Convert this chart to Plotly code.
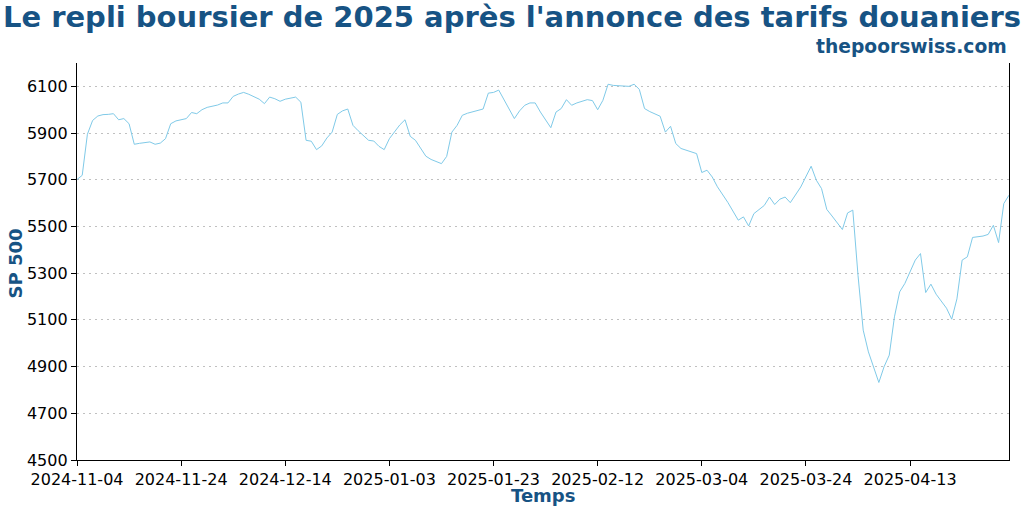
import plotly.graph_objects as go

dates = [
    "2024-11-04", "2024-11-05", "2024-11-06", "2024-11-07", "2024-11-08", "2024-11-09", "2024-11-10",
    "2024-11-11", "2024-11-12", "2024-11-13", "2024-11-14", "2024-11-15", "2024-11-16", "2024-11-17",
    "2024-11-18", "2024-11-19", "2024-11-20", "2024-11-21", "2024-11-22", "2024-11-23", "2024-11-25",
    "2024-11-26", "2024-11-27", "2024-11-28", "2024-11-29", "2024-12-01", "2024-12-02", "2024-12-03",
    "2024-12-04", "2024-12-05", "2024-12-06", "2024-12-07", "2024-12-09", "2024-12-10", "2024-12-11",
    "2024-12-12", "2024-12-13", "2024-12-14", "2024-12-16", "2024-12-17", "2024-12-18", "2024-12-19",
    "2024-12-20", "2024-12-21", "2024-12-22", "2024-12-23", "2024-12-24", "2024-12-25", "2024-12-26",
    "2024-12-27", "2024-12-28", "2024-12-30", "2024-12-31", "2025-01-01", "2025-01-02", "2025-01-03",
    "2025-01-04", "2025-01-05", "2025-01-06", "2025-01-07", "2025-01-08", "2025-01-10", "2025-01-11",
    "2025-01-13", "2025-01-14", "2025-01-15", "2025-01-16", "2025-01-17", "2025-01-18", "2025-01-20",
    "2025-01-21", "2025-01-22", "2025-01-23", "2025-01-24", "2025-01-25", "2025-01-26", "2025-01-27",
    "2025-01-28", "2025-01-29", "2025-01-30", "2025-01-31", "2025-02-01", "2025-02-03", "2025-02-04",
    "2025-02-05", "2025-02-06", "2025-02-07", "2025-02-08", "2025-02-10", "2025-02-11", "2025-02-12",
    "2025-02-13", "2025-02-14", "2025-02-15", "2025-02-17", "2025-02-18", "2025-02-19", "2025-02-20",
    "2025-02-21", "2025-02-22", "2025-02-24", "2025-02-25", "2025-02-26", "2025-02-27", "2025-02-28",
    "2025-03-03", "2025-03-04", "2025-03-05", "2025-03-06", "2025-03-07", "2025-03-09", "2025-03-11",
    "2025-03-12", "2025-03-13", "2025-03-14", "2025-03-16", "2025-03-17", "2025-03-18", "2025-03-19",
    "2025-03-20", "2025-03-21", "2025-03-23", "2025-03-25", "2025-03-26", "2025-03-27", "2025-03-28",
    "2025-03-29", "2025-03-31", "2025-04-01", "2025-04-02", "2025-04-03", "2025-04-04", "2025-04-05",
    "2025-04-07", "2025-04-08", "2025-04-09", "2025-04-10", "2025-04-11", "2025-04-12", "2025-04-14",
    "2025-04-15", "2025-04-16", "2025-04-17", "2025-04-18", "2025-04-20", "2025-04-21", "2025-04-22",
    "2025-04-23", "2025-04-24", "2025-04-25", "2025-04-27", "2025-04-28", "2025-04-29", "2025-04-30",
    "2025-05-01", "2025-05-02",
]

sp500 = [
    5701, 5719, 5895, 5954, 5973, 5979, 5980,
    5983, 5957, 5962, 5940, 5852, 5856, 5860,
    5862, 5852, 5857, 5876, 5940, 5952, 5962,
    5988, 5983, 6000, 6010, 6020, 6029, 6029,
    6057, 6067, 6074, 6066, 6045, 6026, 6054,
    6047, 6036, 6045, 6054, 6032, 5869, 5865,
    5829, 5845, 5879, 5904, 5980, 5995, 6003,
    5933, 5910, 5869, 5866, 5843, 5829, 5876,
    5905, 5935, 5957, 5886, 5869, 5801, 5787,
    5769, 5800, 5904, 5933, 5976, 5985, 5998,
    6003, 6071, 6074, 6084, 6043, 6005, 5962,
    5995, 6019, 6029, 6029, 5990, 5923, 5990,
    6005, 6043, 6019, 6029, 6043, 6039, 6000,
    6040, 6109, 6104, 6100, 6100, 6109, 6087,
    6005, 5992, 5972, 5904, 5929, 5855, 5834,
    5812, 5731, 5741, 5712, 5670, 5603, 5527,
    5541, 5502, 5555, 5590, 5626, 5594, 5617,
    5626, 5602, 5669, 5758, 5698, 5662, 5573,
    5545, 5487, 5558, 5570, 5291, 5056, 4963,
    4832, 4899, 4949, 5113, 5220, 5256, 5356,
    5384, 5217, 5253, 5210, 5150, 5103, 5190,
    5356, 5370, 5453, 5459, 5466, 5505, 5431,
    5598, 5634,
]

x_ticks = ["2024-11-04", "2024-11-24", "2024-12-14", "2025-01-03", "2025-01-23",
           "2025-02-12", "2025-03-04", "2025-03-24", "2025-04-13"]
y_ticks = [4500, 4700, 4900, 5100, 5300, 5500, 5700, 5900, 6100]

TITLE = "Le repli boursier de 2025 après l'annonce des tarifs douaniers"
SUBTITLE = "thepoorswiss.com"
X_LABEL = "Temps"
Y_LABEL = "SP 500"

DARK_BLUE = "#175384"
LINE_BLUE = "#80CAE8"
FONT = "DejaVu Sans"

fig = go.Figure()
fig.add_trace(go.Scatter(x=dates, y=sp500, mode="lines",
                         line=dict(color=LINE_BLUE, width=1), showlegend=False))

fig.update_layout(
    width=1024, height=512,
    margin=dict(l=77, r=15, t=63, b=52),
    paper_bgcolor="white", plot_bgcolor="white",
    font=dict(family=FONT, size=16, color="black"),
    title=dict(text=TITLE, x=0.5, xref="container", xanchor="center",
               y=1 - 17 / 512, yref="container", yanchor="middle",
               font=dict(family=FONT, size=29, color=DARK_BLUE, weight="bold")),
    xaxis=dict(type="date", range=["2024-11-04", "2025-05-02"],
               tickvals=x_ticks, ticktext=x_ticks,
               ticks="outside", ticklen=5, tickcolor="black", tickwidth=1,
               showline=True, linecolor="black", linewidth=1.3, mirror=False,
               showgrid=False, zeroline=False,
               tickfont=dict(family=FONT, size=16, color="black")),
    yaxis=dict(range=[4500, 6200], tickvals=y_ticks,
               ticktext=[str(v) for v in y_ticks],
               ticks="outside", ticklen=5, tickcolor="black", tickwidth=1,
               showline=True, linecolor="black", linewidth=1.3, mirror=True,
               showgrid=True, gridcolor="#c0c0c0", gridwidth=1, griddash="2px,4px",
               zeroline=False,
               tickfont=dict(family=FONT, size=16, color="black")),
    annotations=[
        dict(text=SUBTITLE, xref="paper", yref="paper", x=1.0, y=1 + (63 - 46) / 397,
             xanchor="right", yanchor="middle", showarrow=False,
             font=dict(family=FONT, size=18.7, color=DARK_BLUE, weight="bold")),
        dict(text=X_LABEL, xref="paper", yref="paper", x=0.5, y=-(495 - 460) / 397,
             xanchor="center", yanchor="middle", showarrow=False,
             font=dict(family=FONT, size=18, color=DARK_BLUE, weight="bold")),
        dict(text=Y_LABEL, xref="paper", yref="paper", x=(14.5 - 77) / 932, y=(460 - 264) / 397,
             xanchor="center", yanchor="middle", textangle=-90, showarrow=False,
             font=dict(family=FONT, size=18, color=DARK_BLUE, weight="bold")),
    ],
)

fig.write_html("out.html")
